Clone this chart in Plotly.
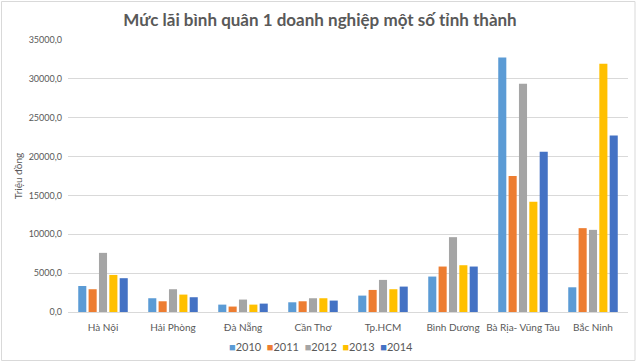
import plotly.graph_objects as go

categories = ["Hà Nội", "Hải Phòng", "Đà Nẵng", "Cần Thơ", "Tp.HCM", "Bình Dương", "Bà Rịa- Vũng Tàu", "Bắc Ninh"]
years = ["2010", "2011", "2012", "2013", "2014"]
v2010 = [3350, 1770, 950, 1250, 2110, 4560, 32750, 3180]
v2011 = [2930, 1380, 700, 1380, 2840, 5850, 17500, 10790]
v2012 = [7610, 2930, 1600, 1770, 4130, 9630, 29360, 10570]
v2013 = [4770, 2240, 950, 1770, 2930, 6020, 14180, 31940]
v2014 = [4350, 1900, 1080, 1470, 3270, 5850, 20630, 22700]
series = [v2010, v2011, v2012, v2013, v2014]
colors = ["#5B9BD5", "#ED7D31", "#A5A5A5", "#FFC000", "#4472C4"]
y_ticks = [0, 5000, 10000, 15000, 20000, 25000, 30000, 35000]

fig = go.Figure()
for name, vals, c in zip(years, series, colors):
    fig.add_trace(go.Bar(name=name, x=categories, y=vals, showlegend=False,
                         marker=dict(color=c, line=dict(width=0))))

W, H = 640, 362
ml, mr, mt, mb = 68, 12, 40, 50
pw, ph = W - ml - mr, H - mt - mb

legend_text = "&nbsp;&nbsp;".join(
    f"<span style='color:{c}'>■</span>{y}" for y, c in zip(years, colors))

fig.update_layout(
    width=W, height=H,
    margin=dict(l=ml, r=mr, t=mt, b=mb, autoexpand=False),
    paper_bgcolor="white", plot_bgcolor="white",
    barmode="group", bargap=0.26, bargroupgap=0.22,
    separators=",.",
    font=dict(family="Lato, Open Sans, sans-serif", color="#595959"),
    title=dict(text="<b>Mức lãi bình quân 1 doanh nghiệp một số tỉnh thành</b>",
               x=(320 - ml) / pw, xref="paper", xanchor="center", y=1 - 20 / H, yanchor="middle",
               font=dict(size=17, color="#595959")),
    showlegend=False,
    annotations=[dict(text=legend_text, xref="paper", yref="paper",
                      x=(321 - ml) / pw, y=-34.5 / ph, xanchor="center", yanchor="middle",
                      showarrow=False, font=dict(size=11, color="#595959"))],
    xaxis=dict(showgrid=False, showline=True, linecolor="#D9D9D9", linewidth=1,
               tickfont=dict(size=10, color="#595959"), ticks="", tickangle=0,
               ticklabelstandoff=6, automargin=False),
    yaxis=dict(range=[0, 35000], tickvals=y_ticks, tickformat=".1f",
               showgrid=True, gridcolor="#D9D9D9", gridwidth=1, zeroline=False,
               tickfont=dict(size=9, color="#595959"), ticklabelstandoff=5, automargin=False,
               title=dict(text="Triệu đồng", font=dict(size=10, color="#595959"), standoff=4)),
    shapes=[dict(type="rect", xref="paper", yref="paper",
                 x0=(1.5 - ml) / pw, x1=(635 - ml) / pw,
                 y0=-(H - 1.5 - mt - ph) / ph, y1=(mt - 1.5) / ph + 1,
                 line=dict(color="#D9D9D9", width=1), layer="below")],
)

fig.write_html("out.html", config={"displayModeBar": False},
               post_script="document.body.style.margin='0';")
